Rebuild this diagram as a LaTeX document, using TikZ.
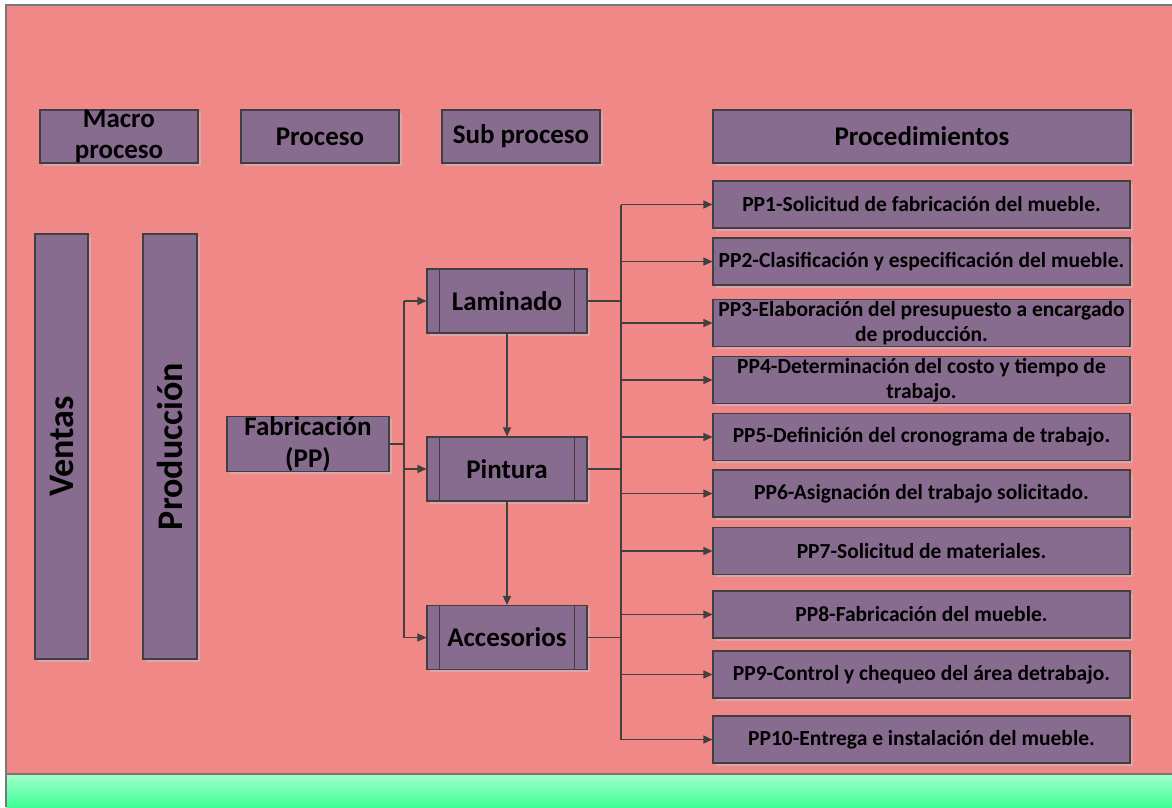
\documentclass[tikz,border=0pt]{standalone}
\usepackage{fontspec}
\setmainfont{Carlito}
\usetikzlibrary{arrows.meta,shadows}
\definecolor{pagepink}{RGB}{240,136,136}
\definecolor{boxpurple}{RGB}{135,108,143}
\definecolor{edgegray}{RGB}{64,64,64}
\definecolor{shadowpink}{RGB}{218,168,172}
\definecolor{greentop}{RGB}{164,255,204}
\definecolor{greenbot}{RGB}{64,255,152}
\definecolor{framegray}{RGB}{120,120,120}
\tikzset{
  box/.style={draw=edgegray, line width=1.1pt, fill=boxpurple, rectangle,
    inner sep=0pt, align=center, text=black, font=\bfseries,
    copy shadow={shadow xshift=2.5pt, shadow yshift=-2.5pt, draw=none, fill=shadowpink}},
  headbox/.style={box, minimum width=158pt, minimum height=53pt,
    font=\fontsize{27}{31}\selectfont\bfseries},
  sidebox/.style={box, minimum width=53pt, minimum height=425pt},
  sidetext/.style={rotate=90, font=\fontsize{36}{40}\selectfont\bfseries},
  procbox/.style={box, minimum width=160pt, minimum height=64pt,
    font=\fontsize{27}{31}\selectfont\bfseries},
  ppbox/.style={box, minimum width=417pt, minimum height=47pt,
    font=\fontsize{21.5}{25}\selectfont\bfseries},
  conn/.style={draw=edgegray, line width=1.5pt},
  arrow/.style={conn, -{Triangle[length=9pt,width=8pt]}},
}
\begin{document}
\begin{tikzpicture}[x=1pt,y=-1pt]
\useasboundingbox (0,0) rectangle (1172,807);
% page background and bottom band
\fill[pagepink] (6,5) rectangle (1172,774);
\shade[top color=greentop, bottom color=greenbot] (6,774) rectangle (1172,807);
\draw[framegray, line width=1.4pt] (6,807) -- (6,5) -- (1172,5);
\draw[framegray, line width=1.4pt] (6,774) -- (1172,774);

% column headers
\node[headbox] (hmacro) at (119,136.5) {Macro\\proceso};
\node[headbox] (hproc) at (320,136.5) {Proceso};
\node[headbox] (hsub) at (521,136.5) {Sub proceso};
\node[headbox, minimum width=418pt] (hpro) at (922,136.5) {Procedimientos};

% macro process and process columns
\node[sidebox] (ventas) at (61.5,446.5) {};
\node[sidetext] (ventastxt) at (ventas.center) {Ventas};
\node[sidebox, minimum width=54pt] (prod) at (170,446.5) {};
\node[sidetext] (prodtxt) at (prod.center) {Producción};

% process
\node[box, minimum width=162pt, minimum height=54pt,
  font=\fontsize{27}{32}\selectfont\bfseries] (fab) at (308,444) {Fabricación\\(PP)};

% sub processes (predefined-process boxes)
\node[procbox] (lam) at (507,301) {Laminado};
\node[procbox] (pin) at (507,469) {Pintura};
\node[procbox] (acc) at (507,637.5) {Accesorios};
\foreach \n in {lam,pin,acc}{
  \draw[edgegray, line width=1.1pt] ([xshift=13pt]\n.north west) -- ([xshift=13pt]\n.south west);
  \draw[edgegray, line width=1.1pt] ([xshift=-13pt]\n.north east) -- ([xshift=-13pt]\n.south east);
}

% procedures
\node[ppbox] (pp1) at (921.5,204.5) {PP1-Solicitud de fabricación del mueble.};
\node[ppbox] (pp2) at (921.5,261.5) {PP2-Clasificación y especificación del mueble.};
\node[ppbox] (pp3) at (921.5,323) {PP3-Elaboración del presupuesto a encargado\\de producción.};
\node[ppbox] (pp4) at (921.5,380) {PP4-Determinación del costo y tiempo de\\trabajo.};
\node[ppbox] (pp5) at (921.5,437) {PP5-Definición del cronograma de trabajo.};
\node[ppbox] (pp6) at (921.5,493.5) {PP6-Asignación del trabajo solicitado.};
\node[ppbox] (pp7) at (921.5,551) {PP7-Solicitud de materiales.};
\node[ppbox] (pp8) at (921.5,614.5) {PP8-Fabricación del mueble.};
\node[ppbox] (pp9) at (921.5,674.5) {PP9-Control y chequeo del área detrabajo.};
\node[ppbox] (pp10) at (921.5,739.5) {PP10-Entrega e instalación del mueble.};

% connectors
\coordinate (fork) at (404,0);
\coordinate (bus) at (621,0);
\draw[conn] (fab.east) -- (fab.east -| fork);
\draw[conn] (fork |- lam) -- (fork |- acc);
\foreach \n in {lam,pin,acc}{
  \draw[arrow] (fork |- \n) -- (\n.west);
  \draw[conn] (\n.east) -- (bus |- \n);
}
\draw[conn, line width=2.6pt] (pin.east) -- (bus |- pin);
\draw[arrow] (lam.south) -- (pin.north);
\draw[arrow] (pin.south) -- (acc.north);
\draw[conn, line width=2.2pt] (bus |- pp1) -- (bus |- pp10);
\foreach \n in {pp1,pp2,pp3,pp4,pp5,pp6,pp7,pp8,pp9,pp10}{
  \draw[arrow] (bus |- \n) -- (\n.west);
}
\end{tikzpicture}
\end{document}
